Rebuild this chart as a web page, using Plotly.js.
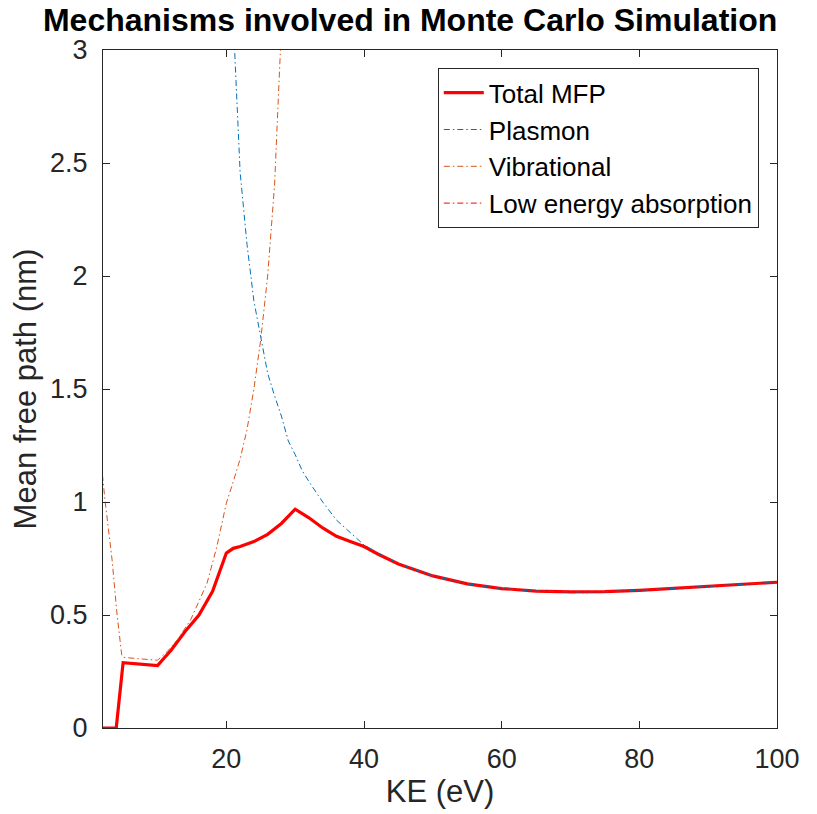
<!DOCTYPE html>
<html>
<head>
<meta charset="utf-8">
<script src="https://cdn.plot.ly/plotly-3.0.1.min.js"></script>
<style>html,body{margin:0;padding:0;background:#fff;}#chart{width:817px;height:814px;}</style>
</head>
<body>
<div id="chart"></div>
<script>
// Total MFP
const totalKE  = [2, 4, 5, 7, 10, 12, 14, 16, 18, 20, 21, 22, 24, 26, 28, 30, 32, 34, 36, 38, 40, 42, 45, 50, 55, 60, 65, 70, 75, 80, 85, 90, 95, 100];
const totalMFP = [0, 0, 0.289, 0.284, 0.276, 0.345, 0.427, 0.499, 0.605, 0.774, 0.795, 0.803, 0.825, 0.857, 0.905, 0.968, 0.93, 0.885, 0.848, 0.825, 0.803, 0.77, 0.726, 0.673, 0.638, 0.617, 0.606, 0.602, 0.603, 0.609, 0.618, 0.628, 0.637, 0.645];

// Plasmon
const plasmonKE  = [20, 21.2, 22, 23, 24, 25, 26, 27, 28, 29, 30, 31, 32, 34, 36, 38, 40, 42, 45, 50, 55, 60, 65, 70, 75, 80, 85, 90, 95, 100];
const plasmonMFP = [4.3, 3.0, 2.46, 2.14, 1.89, 1.73, 1.57, 1.47, 1.38, 1.27, 1.21, 1.14, 1.09, 1.0, 0.92, 0.865, 0.81, 0.775, 0.728, 0.673, 0.638, 0.617, 0.606, 0.602, 0.603, 0.609, 0.618, 0.628, 0.637, 0.645];

// Vibrational
const vibKE  = [2, 2.4, 3.4, 4.1, 4.8, 5, 7, 10, 11.4, 13, 14.8, 17.2, 18.6, 20, 21, 22, 23, 24, 25, 26, 27, 27.6, 28, 29];
const vibMFP = [1.12, 1.0, 0.744, 0.509, 0.323, 0.313, 0.307, 0.3, 0.338, 0.395, 0.478, 0.641, 0.8, 0.995, 1.09, 1.19, 1.32, 1.5, 1.72, 2.0, 2.4, 2.76, 3.0, 3.8];

// Low energy absorption
const lowKE  = [2, 3, 4];
const lowMFP = [0, 0, 0];

const names = ["Total MFP", "Plasmon", "Vibrational", "Low energy absorption"];
const xTicks = [20, 40, 60, 80, 100];
const yTicks = [0, 0.5, 1, 1.5, 2, 2.5, 3];
const yTickText = ["0", "0.5", "1", "1.5", "2", "2.5", "3"];

const FONT = "Liberation Sans, Arial, Helvetica, sans-serif";
const dd = "6px,3px,1.5px,3px";
const data = [
  {x: totalKE, y: totalMFP, name: names[0], mode: "lines", legendgroup: "a",
   line: {color: "#FF0000", width: 3.2}},
  {x: plasmonKE, y: plasmonMFP, name: names[1], mode: "lines", legendgroup: "b",
   line: {color: "#0072BD", width: 1, dash: dd}},
  {x: vibKE, y: vibMFP, name: names[2], mode: "lines", legendgroup: "c",
   line: {color: "#D95319", width: 1, dash: dd}},
  {x: lowKE, y: lowMFP, name: names[3], mode: "lines", legendgroup: "d",
   line: {color: "#FF0000", width: 1, dash: dd}}
];

const axisCommon = {
  showline: true, mirror: "ticks", linecolor: "#262626", linewidth: 1,
  ticks: "inside", ticklen: 7, tickcolor: "#262626", tickwidth: 1,
  showgrid: false, zeroline: false,
  tickfont: {family: FONT, size: 27, color: "#262626"}
};

const layout = {
  width: 817, height: 814,
  paper_bgcolor: "#fff", plot_bgcolor: "#fff",
  margin: {l: 103, r: 40, t: 50, b: 86},
  font: {family: FONT, color: "#262626"},
  title: {text: "<b>Mechanisms involved in Monte Carlo Simulation</b>",
          font: {family: FONT, size: 32, color: "#000"},
          x: 0.502, xanchor: "center", y: 0.976, yanchor: "middle"},
  xaxis: Object.assign({}, axisCommon, {
    range: [2.08, 100], tickvals: xTicks, ticklabelstandoff: 7,
    title: {text: "KE (eV)", font: {family: FONT, size: 31, color: "#262626"}, standoff: 2}
  }),
  yaxis: Object.assign({}, axisCommon, {
    range: [0, 3], tickvals: yTicks, ticktext: yTickText, ticklabelstandoff: 9,
    title: {text: "Mean free path (nm)", font: {family: FONT, size: 31, color: "#262626"}, standoff: 4}
  }),
  showlegend: true,
  legend: {
    x: 0.973, xanchor: "right", y: 0.973, yanchor: "top",
    bgcolor: "#fff", bordercolor: "#262626", borderwidth: 1,
    font: {family: FONT, size: 26, color: "#000"},
    traceorder: "grouped", tracegroupgap: 0, itemwidth: 40
  }
};

Plotly.newPlot("chart", data, layout, {displayModeBar: false, staticPlot: true});
</script>
</body>
</html>
